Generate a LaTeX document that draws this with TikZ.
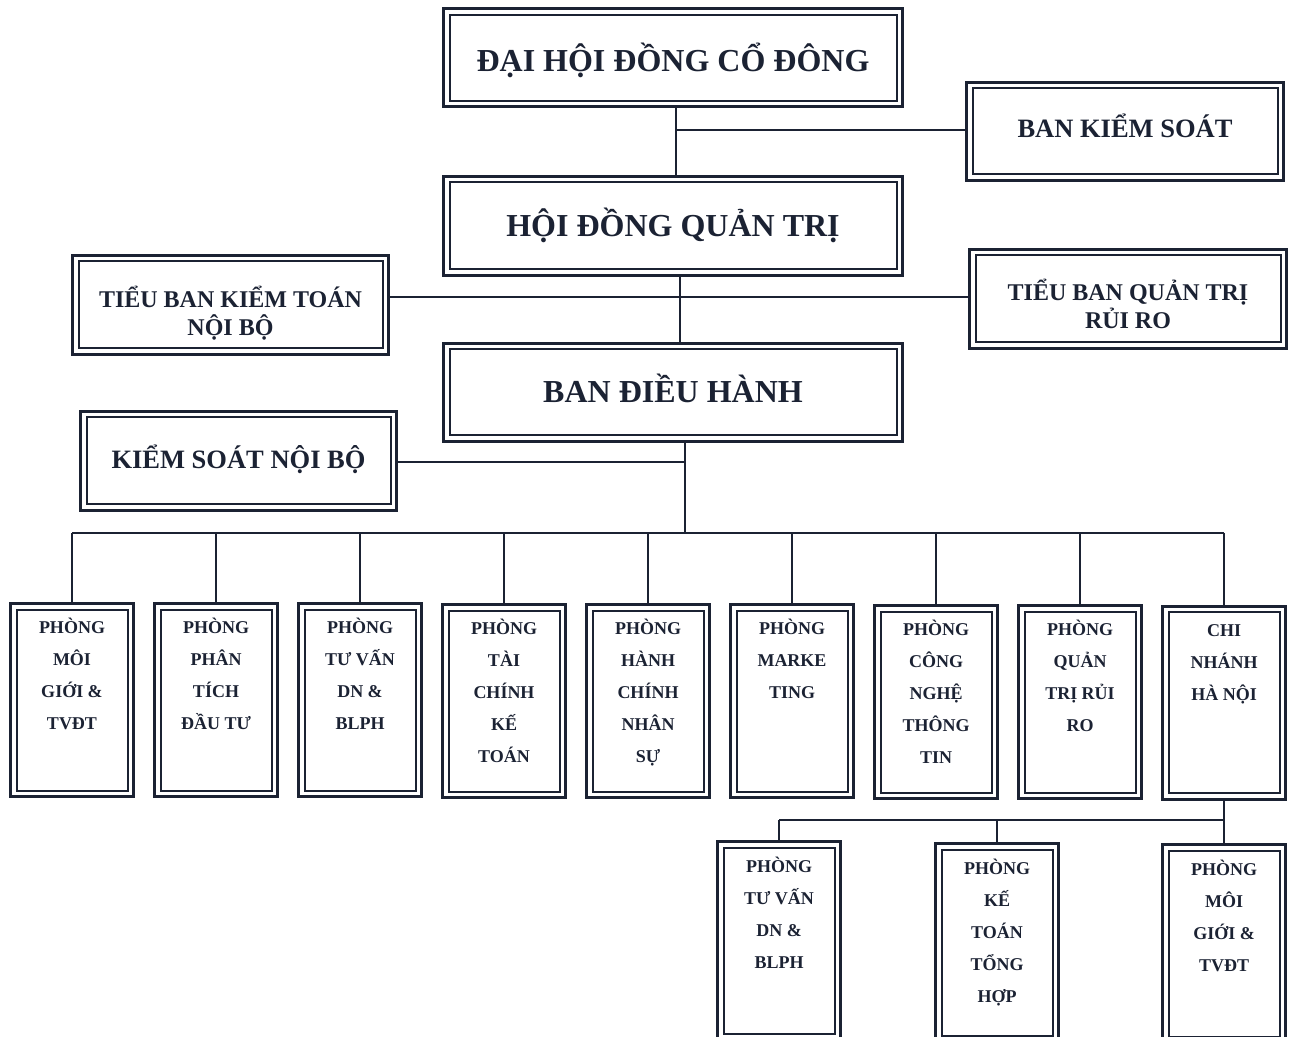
\documentclass[tikz,border=0pt]{standalone}
\usepackage{fontspec}
\setmainfont{Liberation Serif}
\definecolor{ink}{HTML}{1B2233}
\begin{document}
\begin{tikzpicture}[x=0.5pt,y=-0.5pt,
  box/.style={draw=ink, line width=1.5pt, fill=white, inner sep=0pt, rectangle,
    path picture={\draw[ink, line width=1pt]
      ([shift={(3pt,-3pt)}]path picture bounding box.north west) rectangle
      ([shift={(-3pt,3pt)}]path picture bounding box.south east);}},
  big/.style={box, minimum width=229.5pt, minimum height=49pt},
  mid/.style={box, minimum width=158.5pt, minimum height=49.5pt},
  dept/.style={box, minimum width=61.5pt, minimum height=96.5pt},
  sub/.style={box, minimum width=61.5pt, minimum height=99pt},
  lbl/.style={anchor=north, align=center, inner sep=0pt, text=ink},
  fbig/.style={lbl, font=\bfseries\fontsize{16}{19}\selectfont},
  fmid/.style={lbl, font=\bfseries\fontsize{13.25}{16}\selectfont},
  ftb/.style={lbl, font=\bfseries\fontsize{12}{14}\selectfont},
  fdep/.style={lbl, font=\bfseries\fontsize{9}{16}\selectfont, yshift=-5.83pt},
  fsub/.style={lbl, font=\bfseries\fontsize{9}{16}\selectfont, yshift=-6.33pt},
  link/.style={draw=ink, line width=0.75pt}
]
\fill[white] (0,0) rectangle (1291,1037);
\useasboundingbox (0,0) rectangle (1291,1037);

% upper boxes
\node[big, label={[fbig, yshift=-14.2pt]north:\rule{0pt}{1.1em}ĐẠI HỘI ĐỒNG CỔ ĐÔNG}] (dh) at (673,58) {};
\node[mid, minimum height=49pt, label={[fmid, yshift=-13.54pt]north:\rule{0pt}{1.1em}BAN KIỂM SOÁT}] (bks) at (1125,131.5) {};
\node[big, minimum height=49.5pt, label={[fbig, yshift=-12.95pt]north:\rule{0pt}{1.1em}HỘI ĐỒNG QUẢN TRỊ}] (hd) at (673,226) {};
\node[mid, minimum width=158pt, label={[ftb, yshift=-13.52pt]north:\rule{0pt}{1.1em}TIỂU BAN KIỂM TOÁN\\NỘI BỘ}] (tbkt) at (230.5,305) {};
\node[mid, label={[ftb, yshift=-13.02pt]north:\rule{0pt}{1.1em}TIỂU BAN QUẢN TRỊ\\RỦI RO}] (tbq) at (1128,299) {};
\node[big, label={[fbig, yshift=-12.45pt]north:\rule{0pt}{1.1em}BAN ĐIỀU HÀNH}] (bdh) at (673,392.5) {};
\node[mid, minimum width=158pt, label={[fmid, yshift=-14.55pt]north:\rule{0pt}{1.1em}KIỂM SOÁT NỘI BỘ}] (ksnb) at (238.5,461) {};

% departments
\node[dept, label={[fdep]north:\rule{0pt}{1.1em}PHÒNG\\MÔI\\GIỚI \&\\TVĐT}] (d1) at (72,700) {};
\node[dept, label={[fdep]north:\rule{0pt}{1.1em}PHÒNG\\PHÂN\\TÍCH\\ĐẦU TƯ}] (d2) at (216,700) {};
\node[dept, label={[fdep]north:\rule{0pt}{1.1em}PHÒNG\\TƯ VẤN\\DN \&\\BLPH}] (d3) at (360,700) {};
\node[dept, label={[fdep]north:\rule{0pt}{1.1em}PHÒNG\\TÀI\\CHÍNH\\KẾ\\TOÁN}] (d4) at (504,701) {};
\node[dept, label={[fdep]north:\rule{0pt}{1.1em}PHÒNG\\HÀNH\\CHÍNH\\NHÂN\\SỰ}] (d5) at (648,701) {};
\node[dept, label={[fdep]north:\rule{0pt}{1.1em}PHÒNG\\MARKE\\TING}] (d6) at (792,701) {};
\node[dept, label={[fdep]north:\rule{0pt}{1.1em}PHÒNG\\CÔNG\\NGHỆ\\THÔNG\\TIN}] (d7) at (936,702) {};
\node[dept, label={[fdep]north:\rule{0pt}{1.1em}PHÒNG\\QUẢN\\TRỊ RỦI\\RO}] (d8) at (1080,702) {};
\node[dept, label={[fdep]north:\rule{0pt}{1.1em}CHI\\NHÁNH\\HÀ NỘI}] (d9) at (1224,702.5) {};

% branch sub-departments
\node[sub, label={[fsub]north:\rule{0pt}{1.1em}PHÒNG\\TƯ VẤN\\DN \&\\BLPH}] (s1) at (779,940.5) {};
\node[sub, label={[fsub]north:\rule{0pt}{1.1em}PHÒNG\\KẾ\\TOÁN\\TỔNG\\HỢP}] (s2) at (997,942.5) {};
\node[sub, label={[fsub]north:\rule{0pt}{1.1em}PHÒNG\\MÔI\\GIỚI \&\\TVĐT}] (s3) at (1224,943.5) {};

% junctions
\coordinate (j1) at (676,130);
\coordinate (j2) at (680,297);
\coordinate (j3) at (685,462);
\coordinate (j4) at (685,533);
\coordinate (j5) at (1224,820);

% connectors
\draw[link] (dh.south -| j1) -- (hd.north -| j1);
\draw[link] (j1) -- (bks.west |- j1);
\draw[link] (hd.south -| j2) -- (bdh.north -| j2);
\draw[link] (tbkt.east |- j2) -- (tbq.west |- j2);
\draw[link] (bdh.south -| j3) -- (j4);
\draw[link] (ksnb.east |- j3) -- (j3);
\draw[link] (d1.north |- j4) -- (d9.north |- j4);
\foreach \n in {1,...,9} \draw[link] (d\n.north |- j4) -- (d\n.north);
\draw[link] (d9.south) -- (s3.north);
\draw[link] (s1.north |- j5) -- (j5);
\draw[link] (s1.north |- j5) -- (s1.north);
\draw[link] (s2.north |- j5) -- (s2.north);
\end{tikzpicture}
\end{document}
